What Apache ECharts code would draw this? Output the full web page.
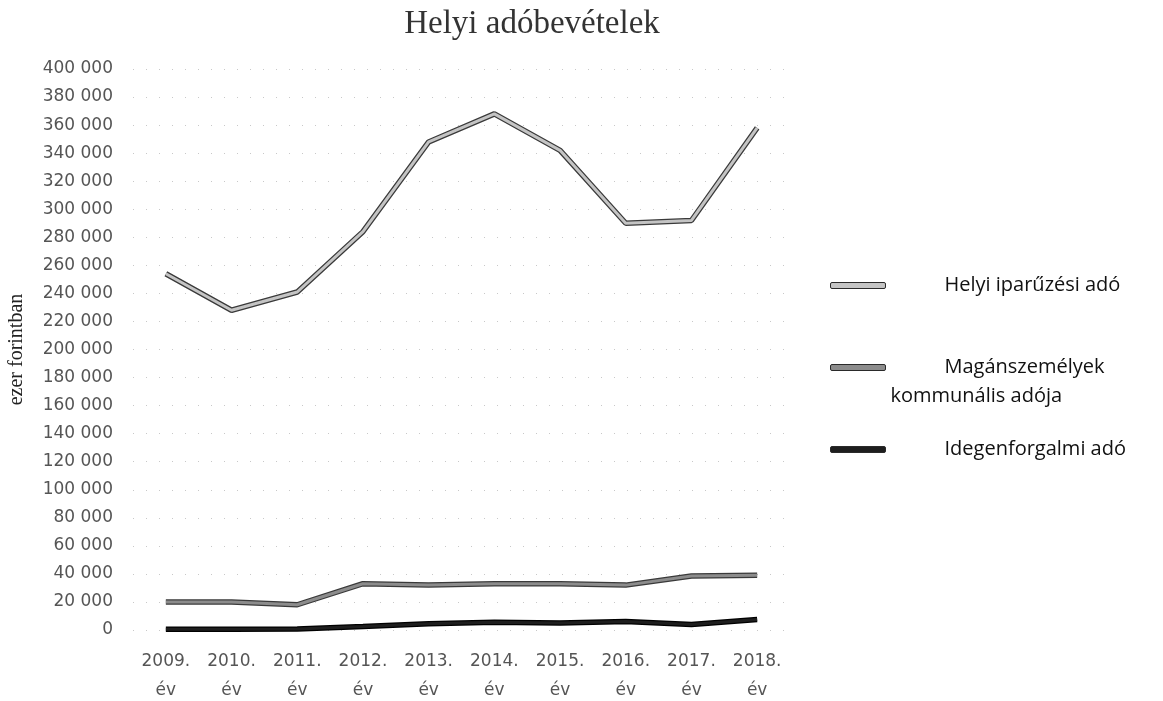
<!DOCTYPE html>
<html>
<head>
<meta charset="utf-8">
<script src="https://cdn.jsdelivr.net/npm/echarts@6/dist/echarts.min.js"></script>
<style>
  html, body { margin: 0; padding: 0; background: #fff; }
  #main { width: 1163px; height: 701px; }
</style>
</head>
<body>
<div id="main"></div>
<script>
const years = ['2009.\név', '2010.\név', '2011.\név', '2012.\név', '2013.\név', '2014.\név', '2015.\név', '2016.\név', '2017.\név', '2018.\név'];
// ezer forintban
const iparuzesi = [254000, 228000, 241000, 284000, 348000, 368000, 342000, 290000, 292000, 358000];
const kommunalis = [20000, 20000, 18000, 33000, 32000, 33000, 33000, 32000, 38500, 39000];
const idegenforgalmi = [500, 500, 800, 2500, 4500, 5500, 5000, 6000, 4000, 7500];

const names = ['Helyi iparűzési adó', 'Magánszemélyek kommunális adója', 'Idegenforgalmi adó'];
const fills = ['#c4c4c4', '#8c8c8c', '#1e1e1e'];
const edges = ['#3a3a3a', '#3a3a3a', '#000000'];
const values = [iparuzesi, kommunalis, idegenforgalmi];

const myChart = echarts.init(document.getElementById('main'));

const series = [];
// main lines first so the legend takes their colour
values.forEach((d, i) => {
  series.push({
    name: names[i],
    type: 'line',
    data: d,
    showSymbol: false,
    z: 3,
    lineStyle: { color: fills[i], width: 3 },
    itemStyle: { color: fills[i] }
  });
});
// dark outline under each line
values.forEach((d, i) => {
  series.push({
    name: names[i],
    type: 'line',
    data: d,
    showSymbol: false,
    silent: true,
    z: 2,
    lineStyle: { color: edges[i], width: 5.5 },
    itemStyle: { color: edges[i] }
  });
});

const option = {
  backgroundColor: '#fff',
  animation: false,
  title: {
    text: 'Helyi adóbevételek',
    left: 527,
    textAlign: 'center',
    top: 3,
    textStyle: { fontFamily: 'Liberation Serif', fontSize: 33, fontWeight: 'normal', color: '#333' }
  },
  legend: {
    orient: 'vertical',
    left: 830,
    top: 271,
    padding: 0,
    itemWidth: 55,
    itemHeight: 6,
    itemGap: 24,
    icon: 'roundRect',
    itemStyle: { borderColor: '#2a2a2a', borderWidth: 1 },
    data: names,
    formatter: function (name) {
      if (name === names[1]) {
        // blank first line keeps the icon level with "Magánszemélyek"
        return '{b| }\n{a|Magánszemélyek}\n{b|kommunális adója}';
      }
      return '{a|' + name + '}';
    },
    textStyle: {
      fontFamily: 'Open Sans',
      fontSize: 20,
      color: '#111',
      lineHeight: 29,
      rich: {
        a: { fontFamily: 'Open Sans', fontSize: 20, color: '#111', padding: [0, 0, 0, 54], lineHeight: 29 },
        b: { fontFamily: 'Open Sans', fontSize: 20, color: '#111', lineHeight: 29 }
      }
    }
  },
  grid: { left: 133, right: 373, top: 69, bottom: 71, containLabel: false, outerBoundsMode: 'none' },
  xAxis: {
    type: 'category',
    data: years,
    axisLine: { show: false },
    axisTick: { show: false },
    axisLabel: {
      fontFamily: 'DejaVu Sans',
      fontSize: 17,
      color: '#555',
      lineHeight: 29,
      margin: 17
    }
  },
  yAxis: {
    type: 'value',
    min: 0,
    max: 400000,
    interval: 20000,
    name: 'ezer forintban',
    nameLocation: 'middle',
    nameRotate: 90,
    nameGap: 106,
    nameTextStyle: { fontFamily: 'Liberation Serif', fontSize: 20, color: '#222' },
    axisLine: { show: false },
    axisTick: { show: false },
    axisLabel: {
      fontFamily: 'DejaVu Sans',
      fontSize: 17,
      color: '#555',
      margin: 20,
      formatter: function (v) {
        return String(v).replace(/\B(?=(\d{3})+(?!\d))/g, ' ');
      }
    },
    splitLine: {
      lineStyle: { color: '#c8c8c8', type: [1, 12], width: 1 }
    }
  },
  series: series
};

myChart.setOption(option);
</script>
</body>
</html>
